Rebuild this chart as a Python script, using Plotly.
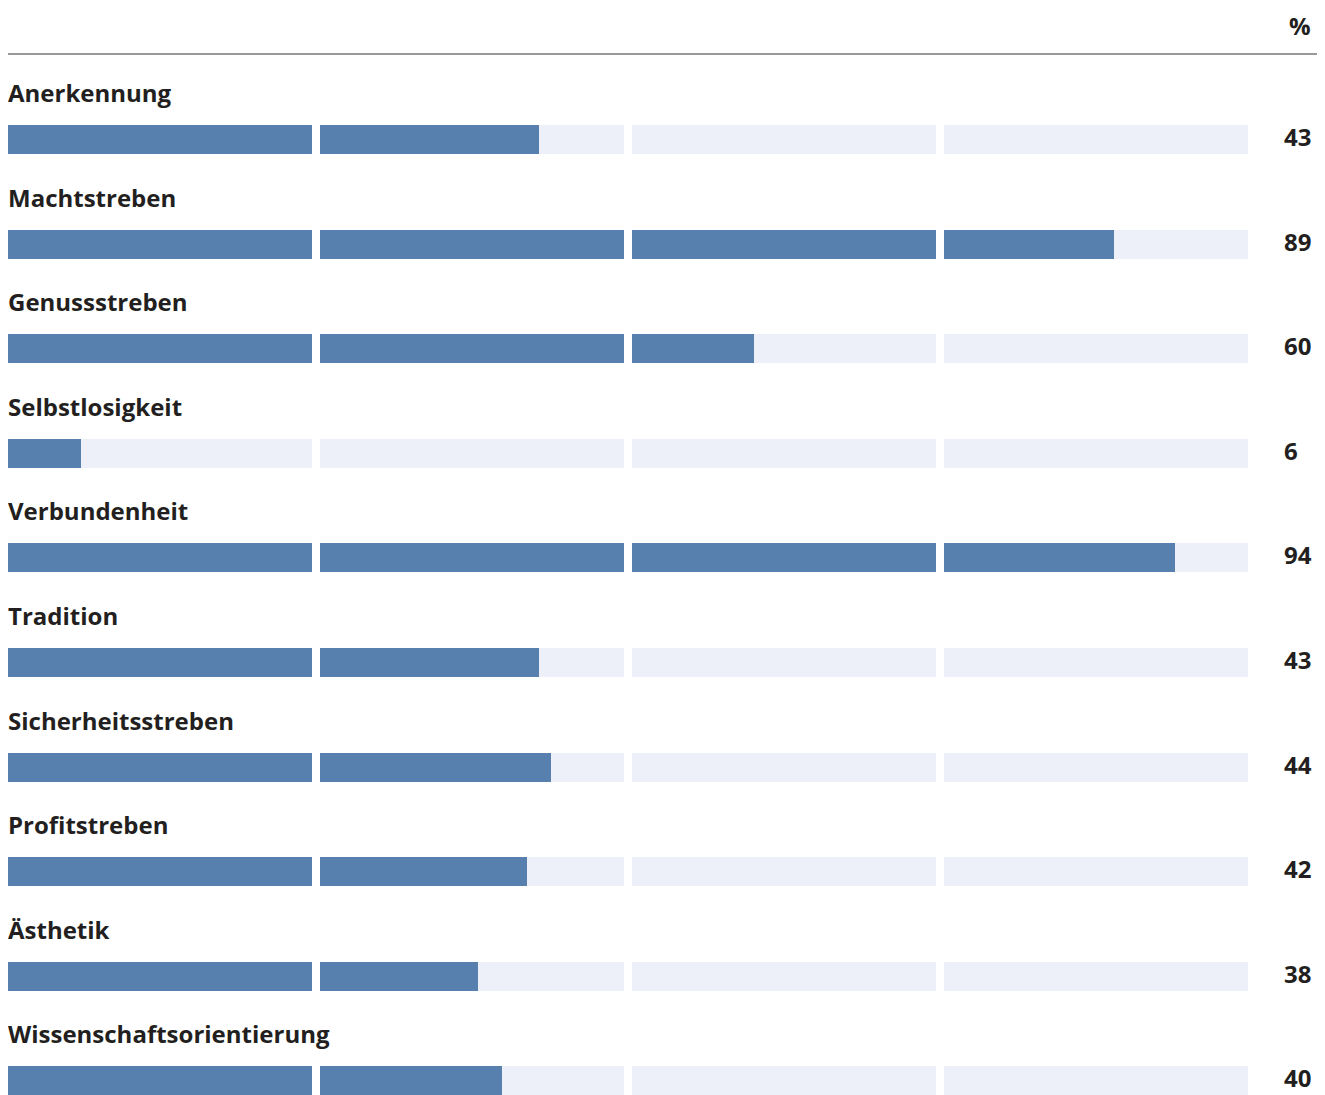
import plotly.graph_objects as go

categories = ["Anerkennung", "Machtstreben", "Genussstreben", "Selbstlosigkeit",
              "Verbundenheit", "Tradition", "Sicherheitsstreben", "Profitstreben",
              "Ästhetik", "Wissenschaftsorientierung"]
values = [43, 89, 60, 6, 94, 43, 44, 42, 38, 40]
segment_size = 25
n_segments = 4
unit_label = "%"

BLUE = "#5880ae"
LIGHT = "#edf0f8"
TEXT = "#231f20"
FONT = "'Open Sans', Lato, sans-serif"
FS = 24

# page body has 8px margin: figure starts at page (8, 8)
W, H = 1309, 1087
px_per_unit = 304 / 25.0
gap = 8 / px_per_unit
bar_thick = 0.277

ys = list(range(len(categories)))

fig = go.Figure()
for s in range(n_segments):
    base = s * (segment_size + gap)
    fig.add_trace(go.Bar(
        orientation="h", y=ys, x=[segment_size] * len(ys), base=[base] * len(ys),
        marker=dict(color=LIGHT, line=dict(width=0)), width=bar_thick,
        hoverinfo="skip", showlegend=False))
for s in range(n_segments):
    base = s * (segment_size + gap)
    fill = [max(0, min(segment_size, v - s * segment_size)) for v in values]
    fig.add_trace(go.Bar(
        orientation="h", y=ys, x=fill, base=[base] * len(ys),
        marker=dict(color=BLUE, line=dict(width=0)), width=bar_thick,
        hoverinfo="skip", showlegend=False))

x_max = W / px_per_unit
value_x = (1284 - 8) / px_per_unit

# y mapping (figure px): bar center = 131.5 + pitch * i
c0 = 131.5
pitch = 104.6
y_top = (0 - c0) / pitch
y_bot = (H - c0) / pitch

for i, (c, v) in enumerate(zip(categories, values)):
    fig.add_annotation(x=0, y=i, xref="x", yref="y", text=f"<b>{c}</b>",
                       showarrow=False, xanchor="left", yanchor="middle",
                       yshift=47, xshift=-1, borderpad=0,
                       font=dict(family=FONT, size=FS, color=TEXT))
    fig.add_annotation(x=value_x, y=i, xref="x", yref="y", text=f"<b>{v}</b>",
                       showarrow=False, xanchor="left", yanchor="middle",
                       yshift=3, xshift=-1, borderpad=0,
                       font=dict(family=FONT, size=FS, color=TEXT))

fig.add_annotation(x=value_x + 4 / px_per_unit, y=(17 - c0) / pitch, xref="x", yref="y",
                   text=f"<b>{unit_label}</b>", showarrow=False, xanchor="left",
                   yanchor="middle", borderpad=0,
                   font=dict(family=FONT, size=FS, color=TEXT))

fig.add_shape(type="line", xref="paper", yref="y", x0=0, x1=1,
              y0=(46 - c0) / pitch, y1=(46 - c0) / pitch,
              line=dict(color="#999999", width=2))

fig.update_layout(
    width=W, height=H, barmode="overlay", bargap=0,
    margin=dict(l=0, r=0, t=0, b=0),
    paper_bgcolor="white", plot_bgcolor="white",
    xaxis=dict(range=[0, x_max], visible=False, fixedrange=True),
    yaxis=dict(range=[y_bot, y_top], visible=False, fixedrange=True),
)

fig.write_html("out.html")
